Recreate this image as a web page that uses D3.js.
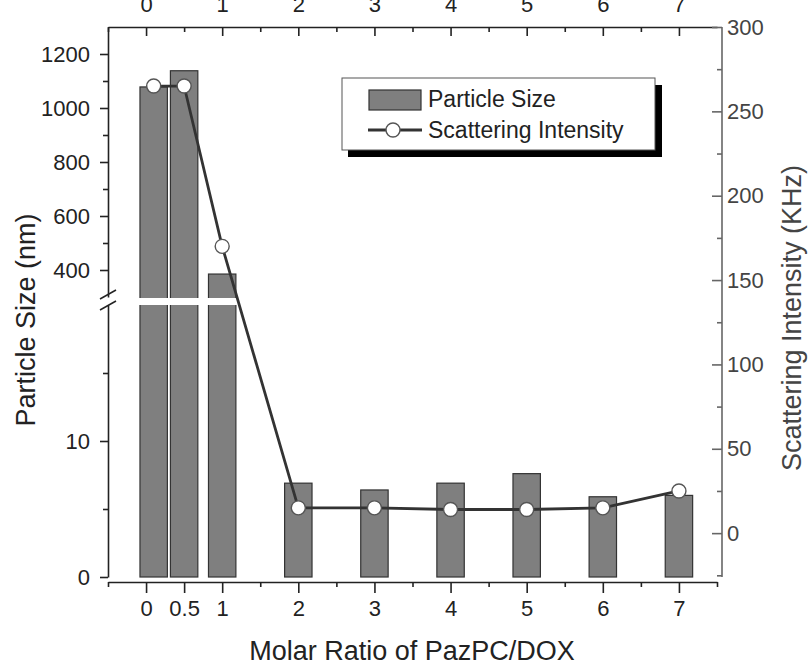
<!DOCTYPE html>
<html>
<head>
<meta charset="utf-8">
<script src="https://cdn.jsdelivr.net/npm/d3@7"></script>
<style>
  body { margin: 0; background: #fff; }
  svg text { font-family: "Liberation Sans", Arial, sans-serif; }
</style>
</head>
<body>
<div id="chart"></div>
<script>
// data
var ratios = [0.1, 0.5, 1, 2, 3, 4, 5, 6, 7];
var particleSize = [1078, 1138, 385, 6.9, 6.4, 6.9, 7.6, 5.9, 6.0];
var intensity = [265, 265, 170, 15, 15, 14, 14, 15, 25];
var bottomTicks = [0, 0.5, 1, 2, 3, 4, 5, 6, 7];
var topTicks = [0, 1, 2, 3, 4, 5, 6, 7];
var upperTicks = [400, 600, 800, 1000, 1200];
var lowerTicks = [0, 10];
var rightTicks = [0, 50, 100, 150, 200, 250, 300];

var svgWidth = 810, svgHeight = 667;
var plotL = 108, plotR = 717, plotT = 27, plotB = 577;
var breakTop = 297, breakBottom = 305;
var axisColor = "#222", rightColor = "#666";
var tickFont = 22;

var svg = d3.select("#chart").append("svg")
  .attr("width", svgWidth)
  .attr("height", svgHeight);

// scales
var x = d3.scaleLinear().domain([-0.5, 7.5]).range([plotL, plotR]);
var yUpper = d3.scaleLinear().domain([300, 1300]).range([breakTop, plotT]);
var yLower = d3.scaleLinear().domain([0, 20]).range([plotB, breakBottom]);
var yRight = d3.scaleLinear().domain([-26, 300]).range([plotB, plotT]);
var barW = x(0.36) - x(0);

function ySize(v) { return v >= 300 ? yUpper(v) : yLower(Math.min(v, 20)); }

// bars
var bars = svg.append("g");
ratios.forEach(function(r, i) {
  var v = particleSize[i];
  bars.append("rect")
    .attr("x", x(r) - barW / 2)
    .attr("y", ySize(v))
    .attr("width", barW)
    .attr("height", yLower(0) - ySize(v))
    .attr("fill", "#7f7f7f")
    .attr("stroke", "#333")
    .attr("stroke-width", 1.2);
});

// white band for axis break
svg.append("rect")
  .attr("x", plotL - 2).attr("y", breakTop + 1)
  .attr("width", 140).attr("height", breakBottom - breakTop - 1)
  .attr("fill", "#fff");

// break marks
var bk = svg.append("g").attr("stroke", axisColor).attr("stroke-width", 1.5);
bk.append("line").attr("x1", 100).attr("y1", 299).attr("x2", 116).attr("y2", 290);
bk.append("line").attr("x1", 100).attr("y1", 310).attr("x2", 116).attr("y2", 301);

// scattering intensity line + markers
var line = d3.line().x((d, i) => x(ratios[i])).y(d => yRight(d));
svg.append("path")
  .datum(intensity)
  .attr("d", line)
  .attr("fill", "none")
  .attr("stroke", "#333")
  .attr("stroke-width", 2.8);

svg.selectAll(".pt")
  .data(intensity)
  .enter()
  .append("circle")
  .attr("class", "pt")
  .attr("cx", (d, i) => x(ratios[i]))
  .attr("cy", d => yRight(d))
  .attr("r", 7)
  .attr("fill", "#fff")
  .attr("stroke", "#555")
  .attr("stroke-width", 1.4);

function styleAxis(g, color) {
  g.attr("font-family", null).attr("font-size", null);
  g.selectAll("path, line").attr("stroke", color).attr("stroke-width", 1.6);
  g.selectAll("text").attr("fill", color).style("font-size", tickFont + "px");
}

var fmt = d3.format("d");

// left axis (upper part)
svg.append("g").attr("transform", `translate(${plotL},0)`)
  .call(d3.axisLeft(yUpper).tickValues(upperTicks).tickFormat(fmt).tickSizeInner(8).tickSizeOuter(0).tickPadding(10))
  .call(g => styleAxis(g, axisColor));
svg.append("g").attr("transform", `translate(${plotL},0)`)
  .call(d3.axisLeft(yUpper).tickValues([500, 700, 900, 1100]).tickSize(5).tickFormat(""))
  .call(g => styleAxis(g, axisColor))
  .select(".domain").remove();

// left axis (lower part)
svg.append("g").attr("transform", `translate(${plotL},0)`)
  .call(d3.axisLeft(yLower).tickValues(lowerTicks).tickFormat(fmt).tickSizeInner(8).tickSizeOuter(0).tickPadding(10))
  .call(g => styleAxis(g, axisColor));
svg.append("g").attr("transform", `translate(${plotL},0)`)
  .call(d3.axisLeft(yLower).tickValues([5, 15]).tickSize(5).tickFormat(""))
  .call(g => styleAxis(g, axisColor))
  .select(".domain").remove();

// bottom axis
var bottomY = 582;
svg.append("g").attr("transform", `translate(0,${bottomY})`)
  .call(d3.axisBottom(x).tickValues(bottomTicks).tickFormat(d3.format("")).tickSizeInner(11).tickSizeOuter(0).tickPadding(7))
  .call(g => styleAxis(g, axisColor));
svg.append("g").attr("transform", `translate(0,${bottomY})`)
  .call(d3.axisBottom(x).tickValues([-0.5, 1.5, 2.5, 3.5, 4.5, 5.5, 6.5, 7.5]).tickSize(5).tickFormat(""))
  .call(g => styleAxis(g, axisColor))
  .select(".domain").remove();

// top axis
svg.append("g").attr("transform", `translate(0,${plotT})`)
  .call(d3.axisTop(x).tickValues(topTicks).tickSizeInner(-9).tickSizeOuter(0).tickPadding(15))
  .call(g => styleAxis(g, axisColor));
svg.append("g").attr("transform", `translate(0,${plotT})`)
  .call(d3.axisTop(x).tickValues([-0.5, 0.5, 1.5, 2.5, 3.5, 4.5, 5.5, 6.5]).tickSize(-5).tickFormat(""))
  .call(g => styleAxis(g, axisColor))
  .select(".domain").remove();

// right axis
var rightX = 722;
var rx = svg.append("g").attr("transform", `translate(${rightX},0)`)
  .call(d3.axisRight(yRight).tickValues(rightTicks).tickSizeInner(-10).tickSizeOuter(0).tickPadding(5))
  .call(g => styleAxis(g, rightColor));
rx.selectAll("text").attr("fill", "#444");
rx.select(".domain").attr("d", `M0,${plotT}V${plotB}`);
svg.append("g").attr("transform", `translate(${rightX},0)`)
  .call(d3.axisRight(yRight).tickValues([-25, 25, 75, 125, 175, 225, 275]).tickSize(-5).tickFormat(""))
  .call(g => styleAxis(g, rightColor))
  .select(".domain").remove();

// axis titles
svg.append("text")
  .attr("transform", "translate(35,320) rotate(-90)")
  .attr("text-anchor", "middle")
  .style("font-size", "27px")
  .attr("fill", axisColor)
  .text("Particle Size (nm)");

svg.append("text")
  .attr("transform", "translate(801,318) rotate(-90)")
  .attr("text-anchor", "middle")
  .style("font-size", "27px")
  .attr("fill", "#444")
  .text("Scattering Intensity (KHz)");

svg.append("text")
  .attr("x", 412)
  .attr("y", 660)
  .attr("text-anchor", "middle")
  .style("font-size", "27px")
  .attr("fill", axisColor)
  .text("Molar Ratio of PazPC/DOX");

// legend
var lg = svg.append("g");
lg.append("rect").attr("x", 348).attr("y", 85).attr("width", 314).attr("height", 72).attr("fill", "#000");
lg.append("rect").attr("x", 342).attr("y", 78).attr("width", 313).attr("height", 72)
  .attr("fill", "#fff").attr("stroke", "#555").attr("stroke-width", 1);
lg.append("rect").attr("x", 369).attr("y", 90).attr("width", 52).attr("height", 20)
  .attr("fill", "#7f7f7f").attr("stroke", "#333").attr("stroke-width", 1.2);
lg.append("text").attr("x", 428).attr("y", 107).style("font-size", "23px").attr("fill", axisColor).text("Particle Size");
lg.append("line").attr("x1", 368).attr("x2", 422).attr("y1", 130).attr("y2", 130)
  .attr("stroke", "#333").attr("stroke-width", 2.8);
lg.append("circle").attr("cx", 393).attr("cy", 130).attr("r", 7)
  .attr("fill", "#fff").attr("stroke", "#555").attr("stroke-width", 1.4);
lg.append("text").attr("x", 428).attr("y", 138).style("font-size", "23px").attr("fill", axisColor).text("Scattering Intensity");
</script>
</body>
</html>
